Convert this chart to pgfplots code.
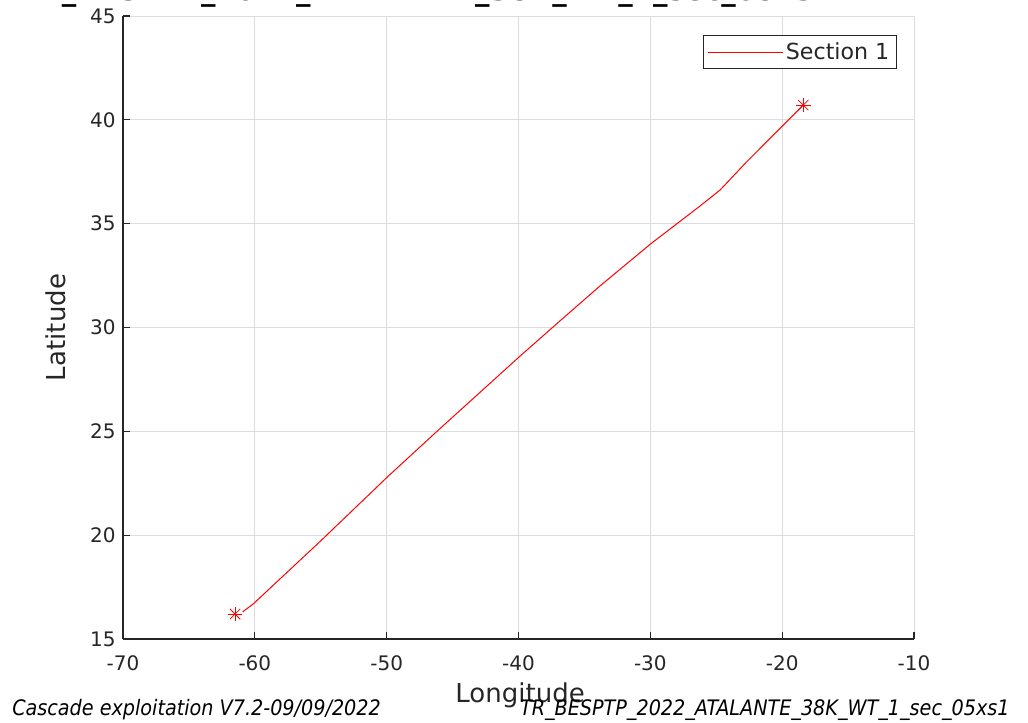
\documentclass[border=0pt]{standalone}
\usepackage{fontspec}
\setmainfont{DejaVu Sans}
\newfontfamily\condfont{DejaVu Sans Condensed}
\usepackage{pgfplots}
\pgfplotsset{compat=1.18}
\definecolor{axgray}{HTML}{262626}
\definecolor{gridgray}{HTML}{DCDCDC}
\begin{document}
\begin{tikzpicture}
\begin{axis}[
  scale only axis,
  width=593.25pt, height=467.25pt,
  xmin=-70, xmax=-10, ymin=15, ymax=45,
  xtick={-70,-60,...,-10}, ytick={15,20,...,45},
  grid=major,
  major grid style={gridgray, line width=0.6pt},
  axis lines=left,
  axis line style={axgray, line width=0.8pt, -},
  tick style={axgray, line width=0.8pt},
  major tick length=5pt, tick align=inside,
  /pgf/number format/assume math mode=true,
  ticklabel style={font=\fontsize{15}{18}\selectfont, text=axgray},
  xticklabel style={yshift=-9pt},
  yticklabel style={xshift=-2pt},
  xlabel={Longitude}, ylabel={Latitude},
  xlabel style={at={(axis description cs:0.502,-0.1027)}, anchor=base, font=\fontsize{19.5}{23}\selectfont, text=axgray},
  ylabel style={at={(axis description cs:-0.0721,0.5)}, anchor=base, font=\fontsize{19.5}{23}\selectfont, text=axgray},
  legend style={at={(axis description cs:1,1)}, anchor=north east, xshift=-12.75pt, yshift=-14.25pt,
    draw=axgray, line width=0.6pt, font=\fontsize{16.6}{19}\selectfont, text=axgray,
    inner xsep=3.5pt, inner ysep=3.5pt},
  legend cell align=left,
  legend image code/.code={\draw[red, line width=0.75pt] (0pt,0pt) -- (56pt,0pt);},
]
\addplot[red, line width=0.75pt] table {
x y
-60.92 16.31
-60.12 16.69
-55.06 19.69
-49.95 22.80
-46.08 25.06
-39.94 28.59
-36.85 30.32
-33.82 32.00
-29.95 34.04
-26.23 35.85
-24.71 36.62
-22.69 37.98
-18.40 40.71
};
\addlegendentry{Section 1}
\addplot[red, only marks, mark=+, mark size=5.5pt, mark options={line width=0.6pt}, forget plot] coordinates {(-61.50,16.20) (-18.40,40.71)};
\addplot[red, only marks, mark=x, mark size=5.5pt, mark options={line width=0.6pt}, forget plot] coordinates {(-61.50,16.20) (-18.40,40.71)};
\end{axis}
\node[anchor=base, font=\fontsize{21.7}{26}\selectfont\bfseries] at (227.25pt,479pt) {TR\_BESPTP\_2022\_ATALANTE\_38K\_WT\_1\_sec\_05xs1};
\node[anchor=base west, inner sep=0pt, font=\condfont\itshape\fontsize{16}{19}\selectfont] at (-83.25pt,-57pt) {Cascade exploitation V7.2-09/09/2022};
\node[anchor=base east, inner sep=0pt, font=\condfont\itshape\fontsize{16}{19}\selectfont] at (665.25pt,-57pt) {TR\_BESPTP\_2022\_ATALANTE\_38K\_WT\_1\_sec\_05xs1};
\pgfresetboundingbox
\useasboundingbox (-92.25pt,-62.25pt) rectangle (678.75pt,479.25pt);
\end{tikzpicture}
\end{document}
